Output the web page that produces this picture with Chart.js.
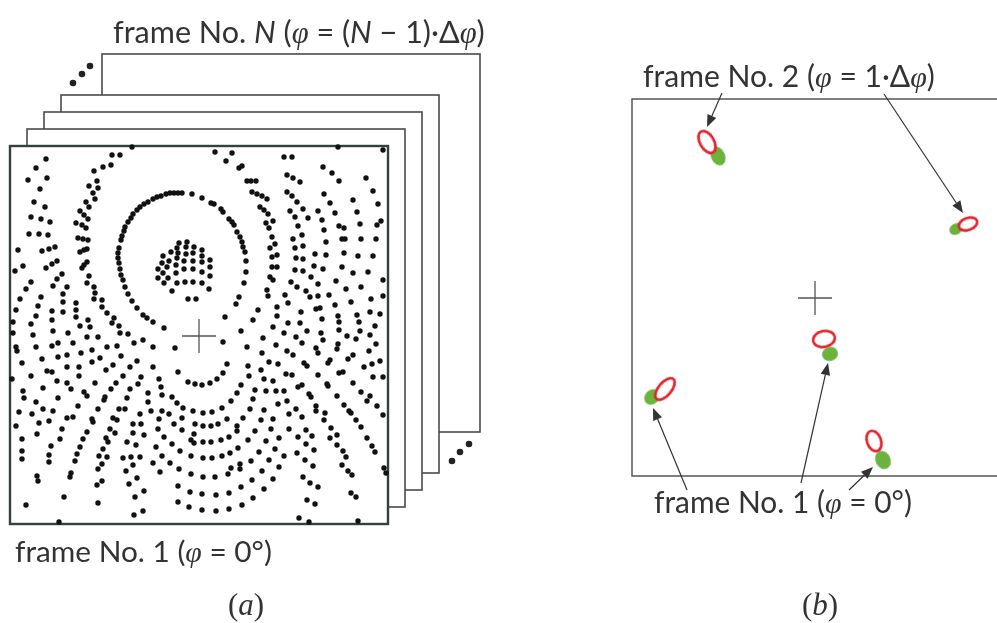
<!DOCTYPE html>
<html>
<head>
<meta charset="utf-8">
<script src="https://cdn.jsdelivr.net/npm/chart.js@4.4.1/dist/chart.umd.min.js"></script>
<style>
  html, body { margin: 0; padding: 0; background: #fff; }
  #fig { display: block; }
</style>
</head>
<body>
<canvas id="fig" width="997" height="623"></canvas>
<script>
// all values are picture coordinates (px from top-left)

// (a) frame No. 1: the big ring, the small cluster inside it, and the field of dots
const ringDots = [
  [121,240],[122,236],[124,231],[125,227],[128,222],[131,218],[133,214],[137,210],[140,207],[144,204],
  [148,202],[153,199],[157,197],[161,196],[166,194],[170,193],[174,193],[178,193],[182,193],[192,194],
  [119,248],[118,253],[118,258],[119,263],[120,269],[121,275],[123,280],[125,287],[128,294],[132,301],
  [137,308],[143,315],[147,318],[153,322],[164,328],
  [202,198],[211,203],[214,204],[221,209],[223,212],[229,219],[232,222],[234,225],[237,232],[240,237],
  [242,242],[243,247],[245,252],[246,261],[246,272],[244,283],[239,297],[236,304],[225,317]
];
const clusterDots = [
  [179,243],[187,242],[177,248],[186,247],[194,247],[202,250],[163,256],[171,252],[178,253],[186,254],
  [193,253],[202,256],[162,263],[169,261],[177,258],[184,261],[193,261],[202,262],[210,260],[158,269],
  [167,267],[176,265],[184,269],[193,269],[202,272],[210,267],[163,273],[176,273],[210,276],[158,278],
  [168,278],[177,283],[185,282],[193,282],[202,283],[209,289],[164,283],[172,291],[188,299],[196,299]
];
const fieldDots = [
  [46,159],[112,155],[120,155],[132,147],[36,168],[111,165],[103,167],[94,171],[28,180],[47,178],
  [97,181],[89,186],[98,188],[40,189],[93,193],[95,199],[86,202],[34,202],[45,207],[89,207],
  [80,211],[84,215],[88,219],[31,217],[41,219],[50,222],[76,223],[82,225],[86,228],[29,234],
  [39,234],[48,235],[78,238],[83,239],[88,240],[18,250],[42,251],[49,249],[55,247],[80,252],
  [84,250],[87,249],[23,266],[15,271],[46,268],[52,264],[57,261],[82,268],[84,265],[87,262],
  [62,274],[89,276],[57,279],[53,286],[87,283],[31,282],[26,289],[67,287],[94,287],[95,293],
  [63,294],[20,299],[41,297],[94,299],[102,300],[63,302],[38,306],[76,303],[102,307],[16,310],
  [52,311],[63,312],[76,310],[107,313],[36,316],[76,317],[114,318],[13,322],[52,320],[88,320],
  [31,324],[80,326],[112,323],[119,326],[90,327],[13,333],[33,335],[53,331],[68,333],[87,337],
  [120,333],[128,334],[143,340],
  [215,152],[226,161],[232,153],[284,157],[292,157],[338,147],[383,150],[239,168],[242,166],[323,167],
  [332,173],[366,178],[247,181],[251,181],[256,181],[287,175],[293,178],[300,182],[339,181],[373,191],
  [252,192],[257,194],[262,196],[267,199],[287,192],[292,196],[297,202],[324,194],[330,203],[353,200],
  [378,204],[260,207],[264,210],[290,211],[303,209],[318,211],[335,213],[357,212],[268,214],[273,221],
  [266,223],[295,217],[308,218],[322,220],[339,226],[344,228],[360,224],[381,221],[377,225],[269,228],
  [272,237],[298,226],[302,235],[293,239],[324,230],[342,239],[345,239],[361,239],[376,239],[270,248],
  [275,244],[295,248],[303,246],[326,242],[344,253],[358,256],[373,256],[272,257],[277,255],[296,258],
  [303,259],[315,254],[326,255],[272,267],[277,267],[295,270],[303,271],[314,266],[323,269],[342,267],
  [353,273],[368,272],[270,277],[273,280],[291,282],[297,287],[311,277],[318,284],[336,281],[346,289],
  [361,287],[383,280],[383,296],[267,290],[268,296],[285,295],[288,303],[306,291],[310,297],[318,296],
  [329,295],[351,302],[371,299],[258,310],[277,307],[301,312],[316,309],[320,308],[335,305],[338,316],
  [357,315],[370,312],[380,314],[253,320],[277,316],[273,327],[288,323],[300,323],[322,319],[339,322],
  [359,322],[375,326],[241,331],[263,338],[284,333],[296,337],[307,331],[321,333],[339,330],[347,336],
  [360,331],[370,335],
  [98,337],[134,343],[16,347],[17,351],[36,347],[52,346],[58,343],[73,343],[81,353],[92,350],
  [107,347],[117,346],[121,356],[153,347],[175,348],[22,363],[42,359],[58,357],[67,355],[100,358],
  [113,365],[137,361],[130,367],[153,367],[92,362],[67,367],[79,367],[47,371],[52,372],[106,370],
  [31,376],[79,376],[12,379],[57,381],[67,383],[71,389],[95,383],[116,383],[111,389],[123,376],
  [141,377],[138,384],[159,379],[161,387],[178,372],[188,382],[195,384],[43,388],[23,391],[24,398],
  [36,402],[84,392],[87,396],[105,397],[104,400],[130,389],[127,398],[148,393],[148,402],[162,395],
  [172,397],[177,403],[183,408],[58,398],[19,412],[32,414],[43,409],[53,411],[78,406],[98,409],
  [119,409],[125,409],[140,414],[151,411],[162,411],[193,411],[169,414],[67,418],[73,417],[49,421],
  [39,423],[92,419],[93,422],[113,418],[117,420],[133,424],[141,424],[159,419],[174,424],[182,418],
  [195,424],[16,426],[62,429],[87,432],[110,429],[115,433],[133,433],[144,435],[158,429],[182,430],
  [194,434],[37,434],[22,439],[60,439],[83,439],[106,438],[108,442],[127,442],[136,445],[164,437],
  [172,444],[191,440],[194,443],[51,446],[80,447],[103,449],[156,447],[180,451],[22,451],[49,455],
  [49,462],[22,459],[77,454],[75,461],[99,456],[107,457],[102,464],[123,458],[131,457],[140,457],
  [153,463],[162,456],[170,463],[191,456],[98,469],[126,471],[133,465],[160,472],[179,469],[191,474],
  [137,478],[37,476],[38,481],[70,477],[71,473],[102,481],[97,485],[129,484],[144,491],[178,486],
  [190,492],[64,497],[135,497],[178,502],[189,507],[26,505],[98,503],[134,515],[143,511],[59,522],
  [323,340],[223,342],[247,347],[276,345],[302,343],[316,348],[318,353],[338,344],[337,349],[356,339],
  [376,344],[369,351],[262,353],[287,351],[293,355],[269,362],[278,364],[227,364],[248,366],[261,370],
  [249,376],[304,363],[307,366],[330,360],[328,363],[348,359],[353,355],[364,367],[372,364],[380,361],
  [286,374],[292,375],[318,375],[339,373],[343,372],[383,377],[373,377],[223,373],[217,379],[210,383],
  [202,385],[241,385],[264,379],[273,381],[298,387],[302,385],[327,384],[328,386],[353,383],[255,390],
  [266,391],[276,391],[284,391],[237,393],[309,394],[311,397],[337,396],[361,392],[370,396],[231,401],
  [253,399],[278,404],[287,401],[316,406],[325,413],[344,405],[349,411],[351,413],[367,401],[377,406],
  [383,415],[222,408],[250,409],[264,410],[296,409],[289,414],[203,413],[212,412],[243,418],[261,420],
  [273,419],[302,417],[316,411],[324,420],[356,420],[203,426],[211,426],[218,424],[227,419],[237,426],
  [237,431],[255,431],[271,429],[289,429],[306,430],[331,428],[337,435],[361,427],[203,442],[211,442],
  [221,440],[229,437],[248,440],[266,441],[279,438],[298,437],[312,436],[330,438],[367,438],[238,448],
  [259,452],[275,449],[297,453],[306,444],[314,450],[337,445],[343,451],[346,457],[372,446],[375,452],
  [203,458],[212,458],[222,456],[230,453],[251,461],[269,460],[284,456],[305,460],[240,464],[240,469],
  [231,468],[262,471],[279,467],[313,466],[342,465],[348,471],[352,475],[384,468],[386,473],[203,477],
  [215,477],[228,474],[252,480],[273,479],[303,477],[310,483],[318,487],[241,487],[264,489],[202,494],
  [216,495],[229,493],[253,498],[307,500],[315,504],[351,493],[356,497],[242,505],[202,510],[216,511],
  [229,509],[299,518],[309,522],[358,521]
];
// the "..." between frame No. 1 and frame No. N
const ellipsisDots = [[73,83],[82,74],[90,66],[452,461],[460,452],[469,444]];
// rotation centres (the + marks)
const centres = [[199,336],[815,298]];

// (b) spots: frame No. 1 (green, filled) and frame No. 2 (red, outline)
const spotsFrame1 = [[718,156],[956,229],[830,354],[652,397],[883,460]];
const spotsFrame2 = [[707,142],[968,224],[824,339],[665,389],[874,441]];
// arrows [fromX, fromY, tipX, tipY]
const arrowsFrame2 = [[722,93,707,127],[884,94,963,213]];
const arrowsFrame1 = [[687,490,653,408],[801,483,828,363],[849,490,873,467]];

// ---- styling / layout ----
const frontFrame = { l: 10, t: 146, r: 388, b: 524 };
const backOffsets = [92, 51, 34, 17];
const boxB = { l: 632, t: 99, r: 997, b: 476 };
// major, minor, rotation (deg)
const greenShape = [[20,14,-25],[14,11,60],[16,14,75],[17,14,45],[19,15,-25]];
const redShape   = [[24,14,-30],[19,12,70],[22,16,78],[26,13,40],[21,14,-20]];

const SANS = 'Lato, "Open Sans", sans-serif';
const SERIF = '"Liberation Serif", "DejaVu Serif", serif';
const INK = '#333';

function pts(list) { return list.map(p => ({ x: p[0], y: p[1] })); }

function ellipseImg(major, minor, fill, stroke, lw) {
  const pad = lw + 2;
  const c = document.createElement('canvas');
  c.width = Math.ceil(minor + pad * 2);
  c.height = Math.ceil(major + pad * 2);
  const g = c.getContext('2d');
  g.beginPath();
  g.ellipse(c.width / 2, c.height / 2, minor / 2, major / 2, 0, 0, Math.PI * 2);
  g.fillStyle = fill;
  g.fill();
  if (stroke) { g.lineWidth = lw; g.strokeStyle = stroke; g.stroke(); }
  return c;
}

const greenImgs = greenShape.map(s => ellipseImg(s[0], s[1], '#6cb33e', null, 0));
const redImgs = redShape.map(s => ellipseImg(s[0], s[1], '#fff', '#e3232b', 2.7));

const framesPlugin = {
  id: 'frames',
  beforeDatasetsDraw(chart) {
    const ctx = chart.ctx, x = chart.scales.x, y = chart.scales.y;
    const L = x.getPixelForValue(frontFrame.l), R = x.getPixelForValue(frontFrame.r);
    const T = y.getPixelForValue(frontFrame.t), B = y.getPixelForValue(frontFrame.b);
    ctx.save();
    backOffsets.forEach(d => {
      ctx.fillStyle = '#fff';
      ctx.fillRect(L + d, T - d, R - L, B - T);
      ctx.strokeStyle = '#4a4a4a';
      ctx.lineWidth = 1.6;
      ctx.strokeRect(L + d, T - d, R - L, B - T);
    });
    ctx.fillStyle = '#fff';
    ctx.fillRect(L, T, R - L, B - T);
    ctx.strokeStyle = '#34403f';
    ctx.lineWidth = 2.4;
    ctx.strokeRect(L, T, R - L, B - T);

    // box of panel (b): open on the right
    const bl = x.getPixelForValue(boxB.l), br = x.getPixelForValue(boxB.r);
    const bt = y.getPixelForValue(boxB.t), bb = y.getPixelForValue(boxB.b);
    ctx.strokeStyle = '#555';
    ctx.lineWidth = 1.5;
    ctx.beginPath();
    ctx.moveTo(br, bt); ctx.lineTo(bl, bt); ctx.lineTo(bl, bb); ctx.lineTo(br, bb);
    ctx.stroke();

    // arrows
    ctx.strokeStyle = '#333';
    ctx.fillStyle = '#333';
    ctx.lineWidth = 1.2;
    arrowsFrame2.concat(arrowsFrame1).forEach(a => {
      const x0 = x.getPixelForValue(a[0]), y0 = y.getPixelForValue(a[1]);
      const x1 = x.getPixelForValue(a[2]), y1 = y.getPixelForValue(a[3]);
      const ang = Math.atan2(y1 - y0, x1 - x0);
      const hl = 12, hw = 4.8;
      const bx = x1 - hl * Math.cos(ang), by = y1 - hl * Math.sin(ang);
      ctx.beginPath(); ctx.moveTo(x0, y0); ctx.lineTo(bx, by); ctx.stroke();
      ctx.beginPath();
      ctx.moveTo(x1, y1);
      ctx.lineTo(bx + hw * Math.sin(ang), by - hw * Math.cos(ang));
      ctx.lineTo(bx - hw * Math.sin(ang), by + hw * Math.cos(ang));
      ctx.closePath(); ctx.fill();
    });
    ctx.restore();
  }
};

function drawRuns(ctx, runs, x0, base, size) {
  let cx = x0;
  runs.forEach(r => {
    ctx.font = (r.i ? 'italic ' : '') + size + 'px ' + (r.serif ? SERIF : SANS);
    ctx.fillText(r.t, cx, base);
    cx += ctx.measureText(r.t).width;
  });
}
function runsWidth(ctx, runs, size) {
  let w = 0;
  runs.forEach(r => {
    ctx.font = (r.i ? 'italic ' : '') + size + 'px ' + (r.serif ? SERIF : SANS);
    w += ctx.measureText(r.t).width;
  });
  return w;
}
const PHI = { t: '\u03C6', i: true, serif: true };
const labels = [
  { runs: [{ t: 'frame No. ' }, { t: 'N', i: true }, { t: ' (' }, PHI, { t: ' = (' }, { t: 'N', i: true }, { t: ' \u2212 1)\u00B7\u0394' }, PHI, { t: ')' }],
    x: 113, y: 43, w: 372 },
  { runs: [{ t: 'frame No. 1 (' }, PHI, { t: ' = 0\u00B0)' }], x: 15, y: 562, w: 257 },
  { runs: [{ t: 'frame No. 2 (' }, PHI, { t: ' = 1\u00B7\u0394' }, PHI, { t: ')' }], x: 643, y: 87, w: 292 },
  { runs: [{ t: 'frame No. 1 (' }, PHI, { t: ' = 0\u00B0)' }], x: 654, y: 513, w: 258 }
];
const panelTags = [{ t: 'a', x: 246 }, { t: 'b', x: 820 }];

const labelsPlugin = {
  id: 'labels',
  afterDraw(chart) {
    const ctx = chart.ctx;
    ctx.save();
    ctx.fillStyle = INK;
    ctx.textBaseline = 'alphabetic';
    ctx.textAlign = 'left';
    labels.forEach(l => {
      const size = 100 * l.w / runsWidth(ctx, l.runs, 100);
      drawRuns(ctx, l.runs, l.x, l.y, size);
    });
    panelTags.forEach(p => {
      const runs = [{ t: '(', serif: true }, { t: p.t, i: true, serif: true }, { t: ')', serif: true }];
      const w = runsWidth(ctx, runs, 31);
      drawRuns(ctx, runs, p.x - w / 2, 615, 31);
    });
    ctx.restore();
  }
};

const dotStyle = { pointRadius: 2.7, pointBackgroundColor: '#111', pointBorderWidth: 0, clip: false };

new Chart(document.getElementById('fig'), {
  type: 'scatter',
  data: {
    datasets: [
      Object.assign({ label: 'ring', data: pts(ringDots) }, dotStyle),
      Object.assign({ label: 'cluster', data: pts(clusterDots) }, dotStyle),
      Object.assign({ label: 'field', data: pts(fieldDots) }, dotStyle),
      { label: 'more frames', data: pts(ellipsisDots), pointRadius: 3.3, pointBackgroundColor: '#222', pointBorderWidth: 0, clip: false },
      { label: 'centre', data: pts(centres), pointStyle: 'cross', pointRadius: 17, pointBorderColor: '#555', pointBorderWidth: 1.3, clip: false },
      { label: 'frame No. 2', data: pts(spotsFrame2), pointStyle: redImgs, pointRotation: redShape.map(s => s[2]), pointRadius: 10, clip: false },
      { label: 'frame No. 1', data: pts(spotsFrame1), pointStyle: greenImgs, pointRotation: greenShape.map(s => s[2]), pointRadius: 10, clip: false }
    ]
  },
  options: {
    responsive: false,
    animation: false,
    events: [],
    layout: { padding: 0, autoPadding: false },
    scales: {
      x: { type: 'linear', min: 0, max: 997, display: false },
      y: { type: 'linear', min: 0, max: 623, reverse: true, display: false }
    },
    plugins: { legend: { display: false }, tooltip: { enabled: false } }
  },
  plugins: [framesPlugin, labelsPlugin]
});
</script>
</body>
</html>
